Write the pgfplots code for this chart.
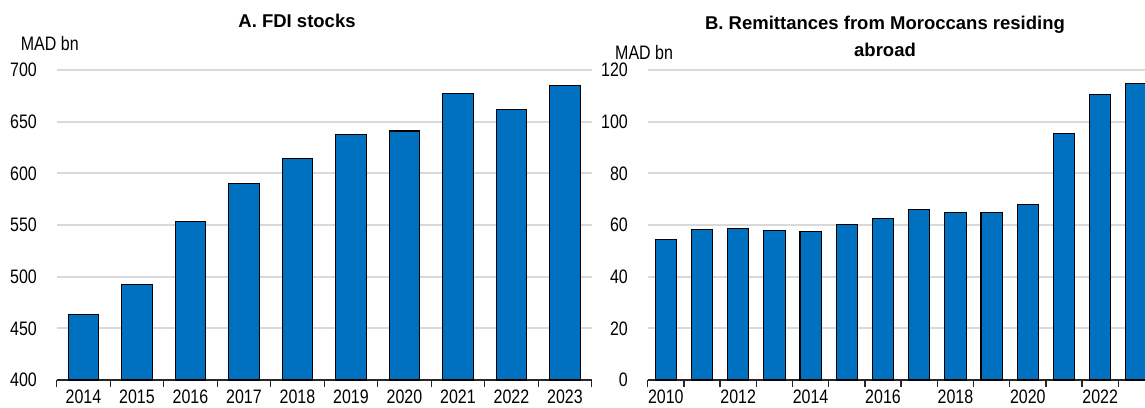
\documentclass[border=0pt]{standalone}
\usepackage{fontspec}
\setmainfont{Liberation Sans}
\newfontfamily\narrowfont[FakeStretch=0.82]{Liberation Sans}
\usepackage{pgfplots}
\pgfplotsset{compat=1.18}
\definecolor{barblue}{RGB}{0,112,192}
\definecolor{gridgray}{RGB}{217,217,217}
\pgfplotsset{
  panel/.style={
    scale only axis,
    anchor=south west,
    height=310pt,
    ymajorgrids,
    grid style={gridgray, line width=2pt},
    axis x line*=bottom,
    axis y line*=left,
    y axis line style={draw=none},
    x axis line style={black!85, line width=1.3pt},
    major tick length=0pt,
    tick style={black!85, line width=1.3pt},
    tick align=inside,
    xtick pos=bottom, ytick pos=left,
    ybar, bar shift=0pt,
    tick label style={font=\narrowfont\fontsize{19.5}{22}\selectfont, inner sep=0pt},
    yticklabel style={anchor=east, xshift=-19.7pt},
    xticklabel style={anchor=north, yshift=-10pt},
    /pgf/number format/assume math mode=true,
    extra x tick style={major tick length=7pt, grid=none},
    extra x tick labels={},
  }
}
\begin{document}
\begin{tikzpicture}
\useasboundingbox (0,0) rectangle (1145pt,407pt);
\begin{axis}[panel, at={(56.7pt,27pt)}, width=535pt,
  xmin=-0.5, xmax=9.5, ymin=400, ymax=700, ytick={400,450,...,700},
  xtick={0,...,9},
  xticklabels={2014,2015,2016,2017,2018,2019,2020,2021,2022,2023},
  extra x ticks={-0.5,0.5,...,9.5}, bar width=30.5pt]
\addplot[fill=barblue, draw=black, line width=1.1pt] coordinates {
(0,463)(1,492)(2,553)(3,590)(4,614)(5,638)(6,641)(7,677)(8,662)(9,685)};
\end{axis}
\begin{axis}[panel, at={(647.7pt,27pt)}, width=497.3pt,
  xmin=-0.5, xmax=13.238, ymin=0, ymax=120, ytick={0,20,...,120},
  xtick={0,2,...,12},
  xticklabels={2010,2012,2014,2016,2018,2020,2022},
  extra x ticks={-0.5,0.5,...,12.5}, bar width=21.3pt]
\addplot[fill=barblue, draw=black, line width=1.1pt] coordinates {
(0,54.5)(1,58.3)(2,58.7)(3,57.9)(4,57.4)(5,60.1)(6,62.6)(7,65.9)(8,64.9)(9,65.0)(10,68.1)(11,95.5)(12,110.6)(13,114.8)};
\end{axis}
\node[anchor=base, inner sep=0pt, font=\fontsize{18.5}{22}\selectfont\bfseries] at (297pt,379pt) {A. FDI stocks};
\node[anchor=base, inner sep=0pt, font=\fontsize{18.5}{22}\selectfont\bfseries] at (885pt,377pt) {B. Remittances from Moroccans residing};
\node[anchor=base, inner sep=0pt, font=\fontsize{18.5}{22}\selectfont\bfseries] at (885pt,350pt) {abroad};
\node[anchor=west, inner sep=0pt, font=\narrowfont\fontsize{19.5}{22}\selectfont] at (20.7pt,363.3pt) {MAD bn};
\node[anchor=west, inner sep=0pt, font=\narrowfont\fontsize{19.5}{22}\selectfont] at (615pt,354.5pt) {MAD bn};
\end{tikzpicture}
\end{document}
